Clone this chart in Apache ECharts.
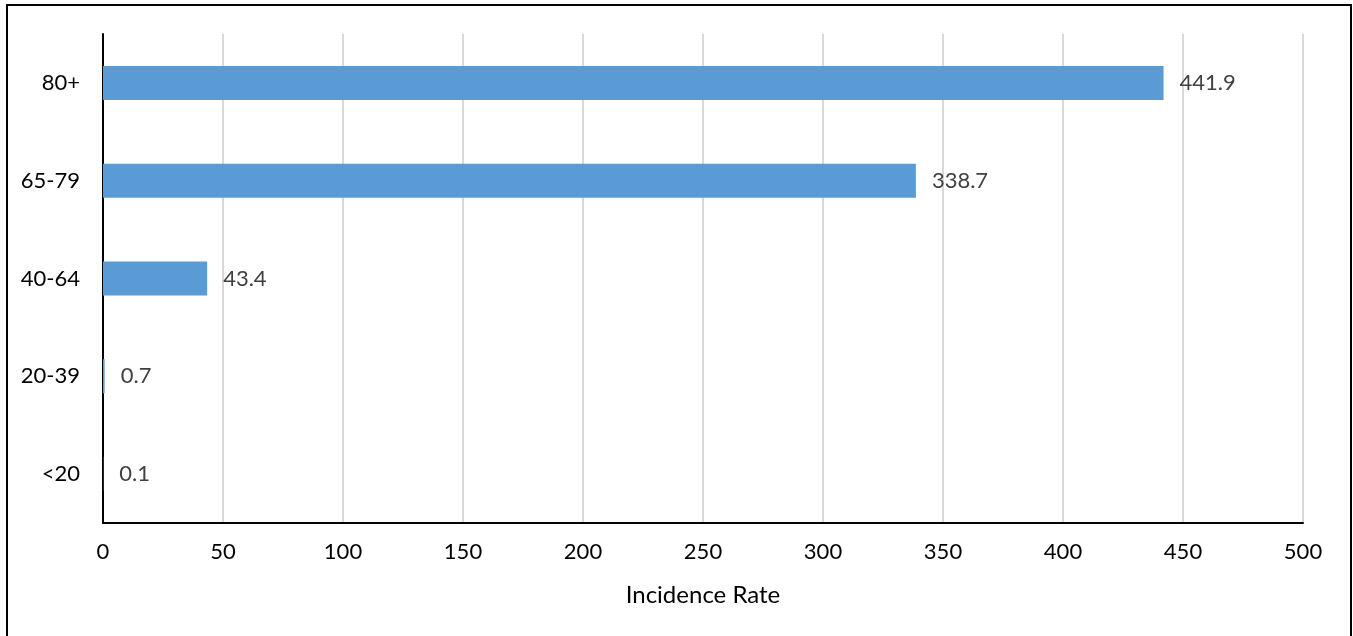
<!DOCTYPE html>
<html>
<head>
<meta charset="utf-8">
<script src="https://cdn.jsdelivr.net/npm/echarts@6/dist/echarts.min.js"></script>
<style>
html,body{margin:0;padding:0;background:#fff;}
#chart{width:1353px;height:636px;}
</style>
</head>
<body>
<div id="chart"></div>
<script>
var categories = ['<20', '20-39', '40-64', '65-79', '80+'];
var values = [0.1, 0.7, 43.4, 338.7, 441.9];
var xTicks = [0, 50, 100, 150, 200, 250, 300, 350, 400, 450, 500];
var axisTitle = 'Incidence Rate';

var FONT = 'Lato';
var chart = echarts.init(document.getElementById('chart'), null, {renderer: 'canvas'});
chart.setOption({
  animation: false,
  backgroundColor: '#ffffff',
  graphic: [{
    type: 'rect',
    shape: {x: 7, y: 5, width: 1344, height: 660},
    style: {fill: 'none', stroke: '#000', lineWidth: 2},
    silent: true
  }],
  grid: {left: 103, right: 50, top: 34, bottom: 113, containLabel: false},
  xAxis: {
    type: 'value',
    min: xTicks[0],
    max: xTicks[xTicks.length - 1],
    interval: 50,
    name: axisTitle,
    nameLocation: 'middle',
    nameGap: 60,
    nameTextStyle: {fontFamily: FONT, fontSize: 24, color: '#000'},
    axisLine: {show: true, lineStyle: {color: '#000', width: 2}},
    axisTick: {show: false},
    axisLabel: {fontFamily: FONT, fontSize: 22, color: '#000', margin: 18},
    splitLine: {show: true, lineStyle: {color: '#d9d9d9', width: 2}}
  },
  yAxis: {
    type: 'category',
    data: categories,
    axisLine: {show: true, lineStyle: {color: '#000', width: 2}},
    axisTick: {show: false},
    axisLabel: {fontFamily: FONT, fontSize: 22, color: '#000', margin: 23},
    splitLine: {show: false}
  },
  series: [{
    type: 'bar',
    data: values,
    barWidth: 34,
    itemStyle: {color: '#5b9bd5'},
    label: {
      show: true,
      position: 'right',
      distance: 16,
      fontFamily: FONT,
      fontSize: 22,
      color: '#404040'
    }
  }]
});
</script>
</body>
</html>
